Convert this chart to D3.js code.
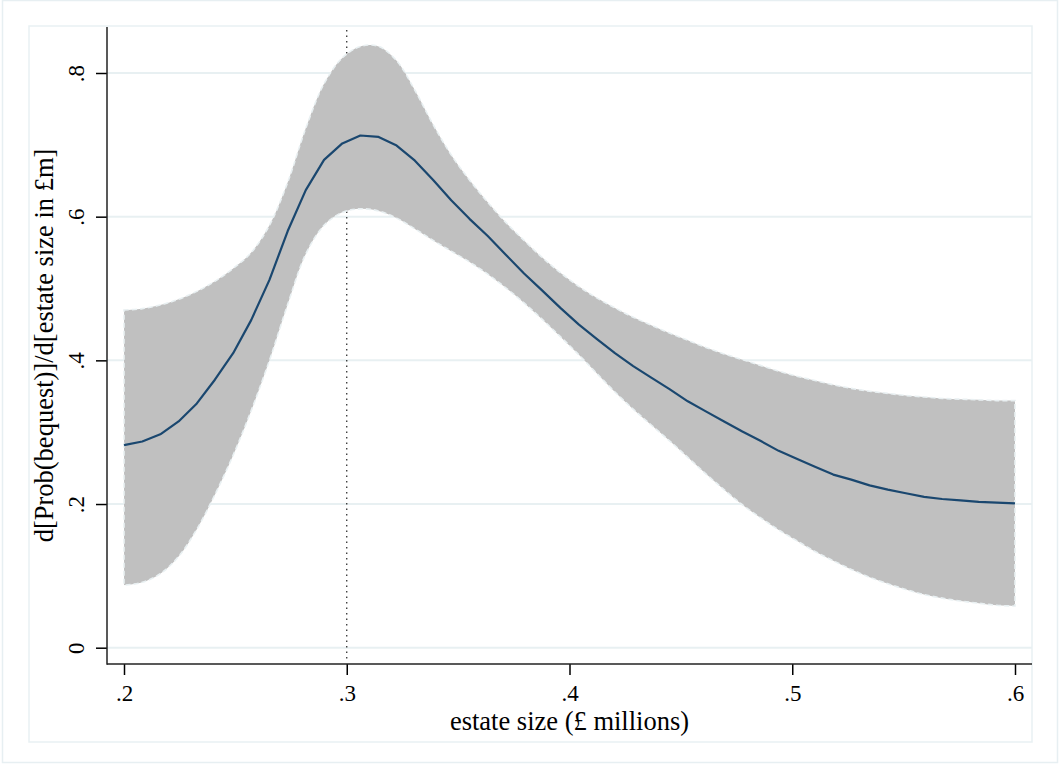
<!DOCTYPE html>
<html>
<head>
<meta charset="utf-8">
<script src="https://cdn.jsdelivr.net/npm/d3@7"></script>
<style>
  body { margin: 0; background: #fff; }
  svg { display: block; font-family: "Liberation Serif", "Times New Roman", serif; }
</style>
</head>
<body>
<svg width="1059" height="764"></svg>
<script>
// estate size (£ millions) at each evaluation point
const estateSize = [
  0.2000, 0.2082, 0.2163, 0.2245, 0.2327, 0.2408, 0.2490, 0.2571, 0.2653, 0.2735,
  0.2816, 0.2898, 0.2980, 0.3061, 0.3143, 0.3224, 0.3306, 0.3388, 0.3469, 0.3551,
  0.3633, 0.3714, 0.3796, 0.3878, 0.3959, 0.4041, 0.4122, 0.4204, 0.4286, 0.4367,
  0.4449, 0.4531, 0.4612, 0.4694, 0.4776, 0.4857, 0.4939, 0.5020, 0.5102, 0.5184,
  0.5265, 0.5347, 0.5429, 0.5510, 0.5592, 0.5673, 0.5755, 0.5837, 0.5918, 0.6000
];

// marginal effect d[Prob(bequest)]/d[estate size]
const effect = [
  0.282, 0.287, 0.297, 0.315, 0.340, 0.373, 0.410, 0.456, 0.512, 0.580,
  0.637, 0.679, 0.702, 0.713, 0.711, 0.699, 0.678, 0.651, 0.623, 0.597,
  0.573, 0.547, 0.521, 0.497, 0.473, 0.450, 0.430, 0.410, 0.392, 0.376,
  0.360, 0.343, 0.329, 0.315, 0.301, 0.288, 0.274, 0.263, 0.252, 0.241,
  0.234, 0.226, 0.220, 0.215, 0.210, 0.207, 0.205, 0.203, 0.202, 0.201
];

// confidence band
const upper = [
  0.470, 0.472, 0.477, 0.485, 0.496, 0.510, 0.528, 0.550, 0.588, 0.648,
  0.723, 0.785, 0.821, 0.837, 0.837, 0.817, 0.776, 0.728, 0.686, 0.651,
  0.620, 0.592, 0.567, 0.543, 0.522, 0.503, 0.487, 0.473, 0.460, 0.449,
  0.438, 0.428, 0.418, 0.409, 0.401, 0.393, 0.385, 0.378, 0.372, 0.366,
  0.361, 0.357, 0.354, 0.351, 0.349, 0.347, 0.346, 0.345, 0.344, 0.344
];
const lower = [
  0.087, 0.091, 0.103, 0.127, 0.165, 0.213, 0.268, 0.330, 0.400, 0.478,
  0.548, 0.588, 0.606, 0.611, 0.608, 0.598, 0.583, 0.567, 0.552, 0.537,
  0.520, 0.501, 0.480, 0.457, 0.433, 0.408, 0.382, 0.356, 0.332, 0.310,
  0.288, 0.265, 0.242, 0.220, 0.199, 0.181, 0.164, 0.149, 0.134, 0.121,
  0.109, 0.098, 0.089, 0.081, 0.074, 0.069, 0.065, 0.062, 0.059, 0.058
];

const xTicks = [0.2, 0.3, 0.4, 0.5, 0.6];
const xTickLabels = ['.2', '.3', '.4', '.5', '.6'];
const yTicks = [0, 0.2, 0.4, 0.6, 0.8];
const yTickLabels = ['0', '.2', '.4', '.6', '.8'];
const refLine = 0.3;

const points = estateSize.map((x, i) => ({x: x, m: effect[i], lo: lower[i], hi: upper[i]}));

// plot geometry
const axisLeftX = 107, axisRightX = 1032, axisTopY = 27, axisBottomY = 664;
const serif = '"Liberation Serif", "Times New Roman", serif';

const x = d3.scaleLinear().domain([0.2, 0.6]).range([124, 1015]);
const y = d3.scaleLinear().domain([0, 0.8]).range([647.7, 73]);

const svg = d3.select('svg');

// outer graph frame and inner region frame
svg.append('rect')
  .attr('x', 2.5).attr('y', 0.5).attr('width', 1055).attr('height', 762)
  .attr('fill', '#fff').attr('stroke', '#e7eff2').attr('stroke-width', 1.5);
svg.append('rect')
  .attr('x', 29).attr('y', 26).attr('width', 1003).attr('height', 716)
  .attr('fill', '#fff').attr('stroke', '#e9f1f3').attr('stroke-width', 1.5);

// gridlines
svg.append('g')
  .attr('class', 'grid')
  .selectAll('line')
  .data(yTicks)
  .enter().append('line')
  .attr('x1', axisLeftX).attr('x2', axisRightX)
  .attr('y1', d => y(d)).attr('y2', d => y(d))
  .attr('stroke', '#e8f0f2')
  .attr('stroke-width', 2);

// dotted reference line
svg.append('line')
  .attr('x1', x(refLine)).attr('x2', x(refLine))
  .attr('y1', axisTopY + 3).attr('y2', axisBottomY - 3)
  .attr('stroke', '#222')
  .attr('stroke-width', 1.2)
  .attr('stroke-dasharray', '1.5,4');

// confidence band
const area = d3.area()
  .curve(d3.curveCatmullRom)
  .x(d => x(d.x))
  .y0(d => y(d.lo))
  .y1(d => y(d.hi));

svg.append('path')
  .datum(points)
  .attr('d', d => area(d) + 'Z')
  .attr('fill', '#c0c0c0')
  .attr('stroke', '#e9f0f2')
  .attr('stroke-width', 1.6)
  .attr('stroke-dasharray', '5,3');

// marginal effect line
const line = d3.line()
  .x(d => x(d.x))
  .y(d => y(d.m));

svg.append('path')
  .datum(points)
  .attr('d', line)
  .attr('fill', 'none')
  .attr('stroke', '#1a476f')
  .attr('stroke-width', 2.2)
  .attr('stroke-linejoin', 'round');

// axes
const yAxis = svg.append('g')
  .attr('transform', `translate(${axisLeftX},0)`)
  .call(d3.axisLeft(y).tickValues(yTicks).tickSize(11)
    .tickFormat((d, i) => yTickLabels[i]))
  .attr('font-size', 23)
  .attr('font-family', serif);
yAxis.select('.domain').remove();
yAxis.selectAll('.tick line').attr('stroke', '#000').attr('stroke-width', 1.5);
yAxis.selectAll('.tick text')
  .attr('x', null).attr('dy', null)
  .attr('text-anchor', 'middle')
  .attr('transform', 'translate(-23,0) rotate(-90)')
  .attr('fill', '#000');

const xAxis = svg.append('g')
  .attr('transform', `translate(0,${axisBottomY})`)
  .call(d3.axisBottom(x).tickValues(xTicks).tickSize(11)
    .tickFormat((d, i) => xTickLabels[i]))
  .attr('font-size', 23)
  .attr('font-family', serif);
xAxis.select('.domain').remove();
xAxis.selectAll('.tick line').attr('stroke', '#000').attr('stroke-width', 1.5);
xAxis.selectAll('.tick text')
  .attr('y', 36.5).attr('dy', null)
  .attr('fill', '#000');

// axis lines
svg.append('line')
  .attr('x1', axisLeftX).attr('x2', axisLeftX)
  .attr('y1', axisTopY).attr('y2', axisBottomY + 0.75)
  .attr('stroke', '#222').attr('stroke-width', 1.5);
svg.append('line')
  .attr('x1', axisLeftX).attr('x2', axisRightX)
  .attr('y1', axisBottomY).attr('y2', axisBottomY)
  .attr('stroke', '#222').attr('stroke-width', 1.5);

// axis titles
svg.append('text')
  .attr('x', (axisLeftX + axisRightX) / 2)
  .attr('y', 730)
  .attr('text-anchor', 'middle')
  .attr('font-family', serif)
  .attr('font-size', 26.5)
  .text('estate size (£ millions)');

svg.append('text')
  .attr('transform', `translate(53,${(axisTopY + axisBottomY) / 2}) rotate(-90)`)
  .attr('text-anchor', 'middle')
  .attr('font-family', serif)
  .attr('font-size', 26.5)
  .text('d[Prob(bequest)]/d[estate size in £m]');
</script>
</body>
</html>
